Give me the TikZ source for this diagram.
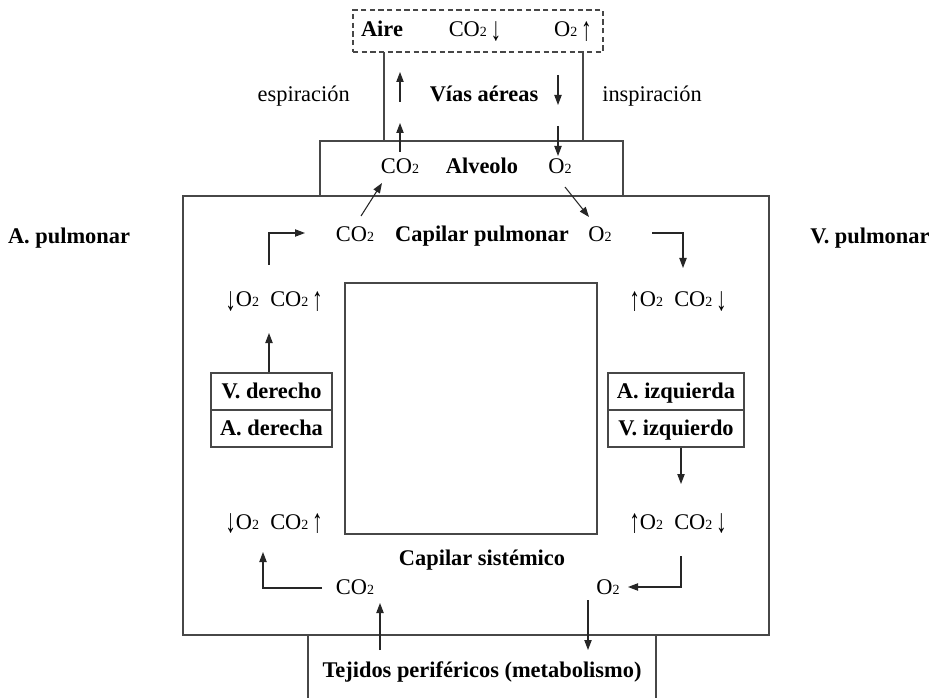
\documentclass[tikz,border=0pt]{standalone}
\usepackage{fontspec}
\setmainfont{Liberation Serif}
\usetikzlibrary{arrows.meta}
\newcommand{\cotwo}{CO{\fontsize{10.5}{10}\selectfont 2}}
\newcommand{\otwo}{O{\fontsize{10.5}{10}\selectfont 2}}
\newcommand{\dnar}{\raisebox{-2.5pt}{\scalebox{0.95}[1.5]{↓}}}
\newcommand{\upar}{\raisebox{-2.5pt}{\scalebox{0.95}[1.5]{↑}}}
\begin{document}
\begin{tikzpicture}[x=0.75pt,y=-0.75pt,
  font=\fontsize{16.8}{19}\selectfont,
  txt/.style={inner sep=0pt, anchor=base},
  bld/.style={txt, font=\fontsize{16.8}{19}\selectfont\bfseries},
  bx/.style={draw=black!72, line width=0.8pt, inner sep=0pt},
  ln/.style={draw=black!72, line width=0.8pt},
  arr/.style={-{Triangle[length=7.5pt,width=5.5pt]}, line width=0.8pt, draw=black!85}]
\useasboundingbox (0,0) rectangle (945,698);

% boxes
\node (aire) [bx, dashed, dash pattern=on 4pt off 2.5pt, minimum width=187.5pt, minimum height=31.5pt] at (478,31) {};
\node (alv) [bx, minimum width=227.25pt, minimum height=41.25pt] at (471.5,168.5) {};
\node (big) [bx, minimum width=439.5pt, minimum height=329.25pt] at (476,415.5) {};
\node (inner) [bx, minimum width=189pt, minimum height=188.25pt] at (471,408.5) {};
\node (vd) [bx, minimum width=90.75pt, minimum height=27.75pt] at (271.5,391.5) {};
\node (ad) [bx, minimum width=90.75pt, minimum height=27.75pt] at (271.5,428.5) {};
\node (ai) [bx, minimum width=102pt, minimum height=27.75pt] at (676,391.5) {};
\node (vi) [bx, minimum width=102pt, minimum height=27.75pt] at (676,428.5) {};

% texts
\node (tAire) [bld] at (382,37) {Aire};
\node (tAco) [txt] at (475,37) {\cotwo\,\dnar};
\node (tAo) [txt] at (573,37) {\otwo\,\upar};
\node (tVias) [bld] at (484,102) {Vías aéreas};
\node (tesp) [txt, anchor=base east] at (350,102) {espiración};
\node (tins) [txt, anchor=base west] at (602,102) {inspiración};
\node (tAlvCO) [txt] at (400,174) {\cotwo};
\node (tAlv) [bld] at (482,174) {Alveolo};
\node (tAlvO) [txt] at (560,174) {\otwo};
\node (tCpCO) [txt] at (355,242) {\cotwo};
\node (tCp) [bld] at (482,242) {Capilar pulmonar};
\node (tCpO) [txt] at (600,242) {\otwo};
\node (tAp) [bld] at (69,244) {A. pulmonar};
\node (tVp) [bld] at (870,244) {V. pulmonar};
\node (tL1) [txt] at (274,307) {\dnar\otwo\ \ \cotwo\,\upar};
\node (tR1) [txt] at (678,307) {\upar\otwo\ \ \cotwo\,\dnar};
\node (tVd) [bld] at (271.5,398) {V. derecho};
\node (tAd) [bld] at (271.5,435) {A. derecha};
\node (tAi) [bld] at (676,398) {A. izquierda};
\node (tVi) [bld] at (676,435) {V. izquierdo};
\node (tL2) [txt] at (274,529) {\dnar\otwo\ \ \cotwo\,\upar};
\node (tR2) [txt] at (678,529) {\upar\otwo\ \ \cotwo\,\dnar};
\node (tCs) [bld] at (482,565) {Capilar sistémico};
\node (tCsCO) [txt] at (355,594) {\cotwo};
\node (tCsO) [txt] at (608,594) {\otwo};
\node (tTej) [bld] at (482,677) {Tejidos periféricos (metabolismo)};

% coordinates
\coordinate (w1) at (384,52);  \coordinate (w2) at (384,141);
\coordinate (w3) at (583,52);  \coordinate (w4) at (583,141);
\coordinate (u1) at (400,102); \coordinate (u2) at (400,72);
\coordinate (u3) at (400,152); \coordinate (u4) at (400,123);
\coordinate (d1) at (558,75);  \coordinate (d2) at (558,105);
\coordinate (d3) at (558,126); \coordinate (d4) at (558,156);
\coordinate (g1) at (361,216); \coordinate (g2) at (382,183);
\coordinate (g3) at (565,187); \coordinate (g4) at (589,217);
\coordinate (lb1) at (269,265); \coordinate (lb2) at (269,233); \coordinate (lb3) at (305,233);
\coordinate (rb1) at (652,233); \coordinate (rb2) at (683,233); \coordinate (rb3) at (683,268);
\coordinate (la1) at (269,333);
\coordinate (ra1) at (681,484);
\coordinate (bl1) at (322,588); \coordinate (bl2) at (263,588); \coordinate (bl3) at (263,552);
\coordinate (br1) at (681,556); \coordinate (br2) at (681,587); \coordinate (br3) at (628,587);
\coordinate (t1) at (380,650); \coordinate (t2) at (380,603);
\coordinate (t3) at (588,600); \coordinate (t4) at (588,650);
\coordinate (k1) at (308,635); \coordinate (k2) at (308,698);
\coordinate (k3) at (656,635); \coordinate (k4) at (656,698);

% lines
\draw[ln] (w1) -- (w2);
\draw[ln] (w3) -- (w4);
\draw[ln] (k1) -- (k2);
\draw[ln] (k3) -- (k4);

% arrows
\draw[arr] (u1) -- (u2);
\draw[arr] (u3) -- (u4);
\draw[arr] (d1) -- (d2);
\draw[arr] (d3) -- (d4);
\draw[arr] (g1) -- (g2);
\draw[arr] (g3) -- (g4);
\draw[arr] (lb1) -- (lb2) -- (lb3);
\draw[arr] (rb1) -- (rb2) -- (rb3);
\draw[arr] (vd.north -| la1) -- (la1);
\draw[arr] (vi.south -| ra1) -- (ra1);
\draw[arr] (bl1) -- (bl2) -- (bl3);
\draw[arr] (br1) -- (br2) -- (br3);
\draw[arr] (t1) -- (t2);
\draw[arr] (t3) -- (t4);
\end{tikzpicture}
\end{document}
